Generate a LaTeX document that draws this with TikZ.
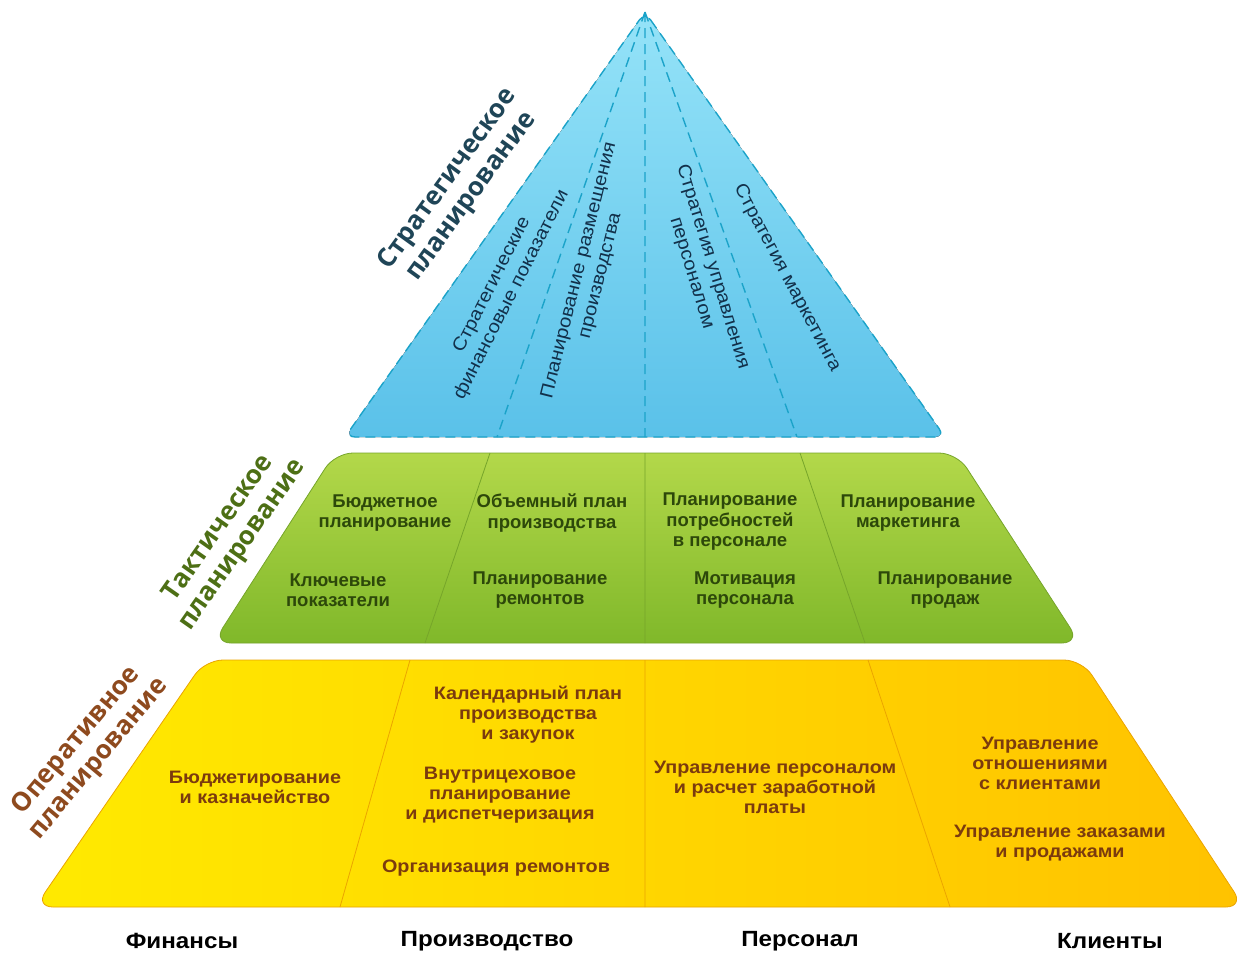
\documentclass[tikz,border=0pt]{standalone}
\usepackage{fontspec}
\setmainfont{Liberation Sans}
\newfontfamily\widefont[FakeStretch=1.1]{Liberation Sans}
\newfontfamily\levelfont{Open Sans}

\definecolor{skytop}{HTML}{95E3F8}
\definecolor{skybot}{HTML}{5AC1E9}
\definecolor{skydash}{HTML}{1BA3C9}
\definecolor{skytxt}{HTML}{12304A}
\definecolor{stratlbl}{HTML}{1F4557}
\definecolor{tacttop}{HTML}{B3D84A}
\definecolor{tactbot}{HTML}{80B82A}
\definecolor{tactline}{HTML}{76A52A}
\definecolor{tacttxt}{HTML}{2D480A}
\definecolor{tactlbl}{HTML}{4D6F15}
\definecolor{operleft}{HTML}{FFEA00}
\definecolor{operright}{HTML}{FFC200}
\definecolor{operline}{HTML}{EBA400}
\definecolor{opertxt}{HTML}{7B3B0E}
\definecolor{operlbl}{HTML}{8E4A1E}

\tikzset{
  tacttext/.style={align=center, inner sep=0pt, text=tacttxt,
    font=\bfseries\fontsize{18.5}{20.5}\selectfont},
  opertext/.style={align=center, inner sep=0pt, text=opertxt,
    font=\widefont\bfseries\fontsize{18}{20}\selectfont},
  skytext/.style={align=center, inner sep=0pt, text=skytxt,
    font=\widefont\fontsize{18.5}{22}\selectfont},
  leveltext/.style={align=center, inner sep=0pt,
    font=\levelfont\bfseries\fontsize{26}{29}\selectfont},
  columntext/.style={inner sep=0pt,
    font=\widefont\bfseries\fontsize{22}{24}\selectfont},
}

\begin{document}
\begin{tikzpicture}[x=1pt, y=-1pt]
  \useasboundingbox (0,0) rectangle (1246,953);

  % strategic level
  \coordinate (ST)  at (645,12);
  \coordinate (SL)  at (345,437);
  \coordinate (SR)  at (945,437);
  \coordinate (S1)  at (497,437);
  \coordinate (S2)  at (645,437);
  \coordinate (S3)  at (797,437);

  % tactical level
  \coordinate (TTL) at (335,453);
  \coordinate (TTR) at (957,453);
  \coordinate (TBR) at (1080,643);
  \coordinate (TBL) at (213,643);
  \coordinate (T1a) at (490,453);
  \coordinate (T1b) at (425,643);
  \coordinate (T2a) at (645,453);
  \coordinate (T2b) at (645,643);
  \coordinate (T3a) at (800,453);
  \coordinate (T3b) at (865,643);

  % operational level
  \coordinate (OTL) at (205,660);
  \coordinate (OTR) at (1082,660);
  \coordinate (OBR) at (1244,907);
  \coordinate (OBL) at (35,907);
  \coordinate (O1a) at (410,660);
  \coordinate (O1b) at (340,907);
  \coordinate (O2a) at (645,660);
  \coordinate (O2b) at (645,907);
  \coordinate (O3a) at (868,660);
  \coordinate (O3b) at (950,907);

  % shadows
  \fill[black!12, rounded corners=10pt, shift={(2,4)}] (ST)--(SR)--(SL)--cycle;
  \fill[black!12, rounded corners=18pt, shift={(2,4)}] (TTL)--(TTR)--(TBR)--(TBL)--cycle;
  \fill[black!12, rounded corners=18pt, shift={(0,4)}] (OTL)--(OTR)--(OBR)--(OBL)--cycle;

  \fill[top color=skytop, bottom color=skybot, rounded corners=10pt]
    (ST)--(SR)--(SL)--cycle;
  \draw[skydash, line width=1.4pt, dash pattern=on 10pt off 6pt, rounded corners=10pt]
    (ST)--(SR)--(SL)--cycle;
  \draw[skydash, line width=1.4pt, dash pattern=on 10pt off 6pt]
    (ST)--(S1) (ST)--(S2) (ST)--(S3);

  \draw[tactline, line width=0.8pt, top color=tacttop, bottom color=tactbot,
    rounded corners=18pt] (TTL)--(TTR)--(TBR)--(TBL)--cycle;
  \draw[tactline, line width=0.8pt] (T1a)--(T1b) (T2a)--(T2b) (T3a)--(T3b);

  \draw[operline, line width=0.8pt, left color=operleft, right color=operright,
    rounded corners=18pt] (OTL)--(OTR)--(OBR)--(OBL)--cycle;
  \draw[operline, line width=0.8pt] (O1a)--(O1b) (O2a)--(O2b) (O3a)--(O3b);

  % strategic texts
  \node[skytext, rotate=63]  (sfin)  at (502,290) {Стратегические\\финансовые показатели};
  \node[skytext, rotate=76]  (sprod) at (590,273) {Планирование размещения\\производства};
  \node[skytext, rotate=-73] (spers) at (702,270) {Стратегия управления\\персоналом};
  \node[skytext, rotate=-62] (smark) at (787,278) {Стратегия маркетинга};

  % tactical texts
  \node[tacttext] (tbud)  at (385,513) {Бюджетное\\планирование};
  \node[tacttext] (tvol)  at (552,513) {Объемный план\\производства};
  \node[tacttext] (tneed) at (730,522) {Планирование\\потребностей\\в персонале};
  \node[tacttext] (tmark) at (908,513) {Планирование\\маркетинга};
  \node[tacttext] (tkey)  at (338,590) {Ключевые\\показатели};
  \node[tacttext] (trep)  at (540,590) {Планирование\\ремонтов};
  \node[tacttext] (tmot)  at (745,590) {Мотивация\\персонала};
  \node[tacttext] (tsale) at (945,590) {Планирование\\продаж};

  % operational texts
  \node[opertext] (obud)  at (255,787) {Бюджетирование\\и казначейство};
  \node[opertext] (ocal)  at (528,715) {Календарный план\\производства\\и закупок};
  \node[opertext] (oshop) at (500,795) {Внутрицеховое\\планирование\\и диспетчеризация};
  \node[opertext] (orep)  at (496,868) {Организация ремонтов};
  \node[opertext] (opay)  at (775,787) {Управление персоналом\\и расчет заработной\\платы};
  \node[opertext] (ocrm)  at (1040,763) {Управление\\отношениями\\с клиентами};
  \node[opertext] (oord)  at (1060,843) {Управление заказами\\и продажами};

  % level labels
  \node[leveltext, text=stratlbl, rotate=54] (lstrat) at (460,188) {Стратегическое\\планирование};
  \node[leveltext, text=tactlbl, rotate=55]  (ltact)  at (231,537) {Тактическое\\планирование};
  \node[leveltext, text=operlbl, rotate=50]  (loper)  at (88,750)  {Оперативное\\планирование};

  % columns
  \node[columntext] (cfin)  at (182,941)  {Финансы};
  \node[columntext] (cprod) at (487,941)  {Производство};
  \node[columntext] (cpers) at (800,941)  {Персонал};
  \node[columntext] (ccli)  at (1110,941) {Клиенты};
\end{tikzpicture}
\end{document}
